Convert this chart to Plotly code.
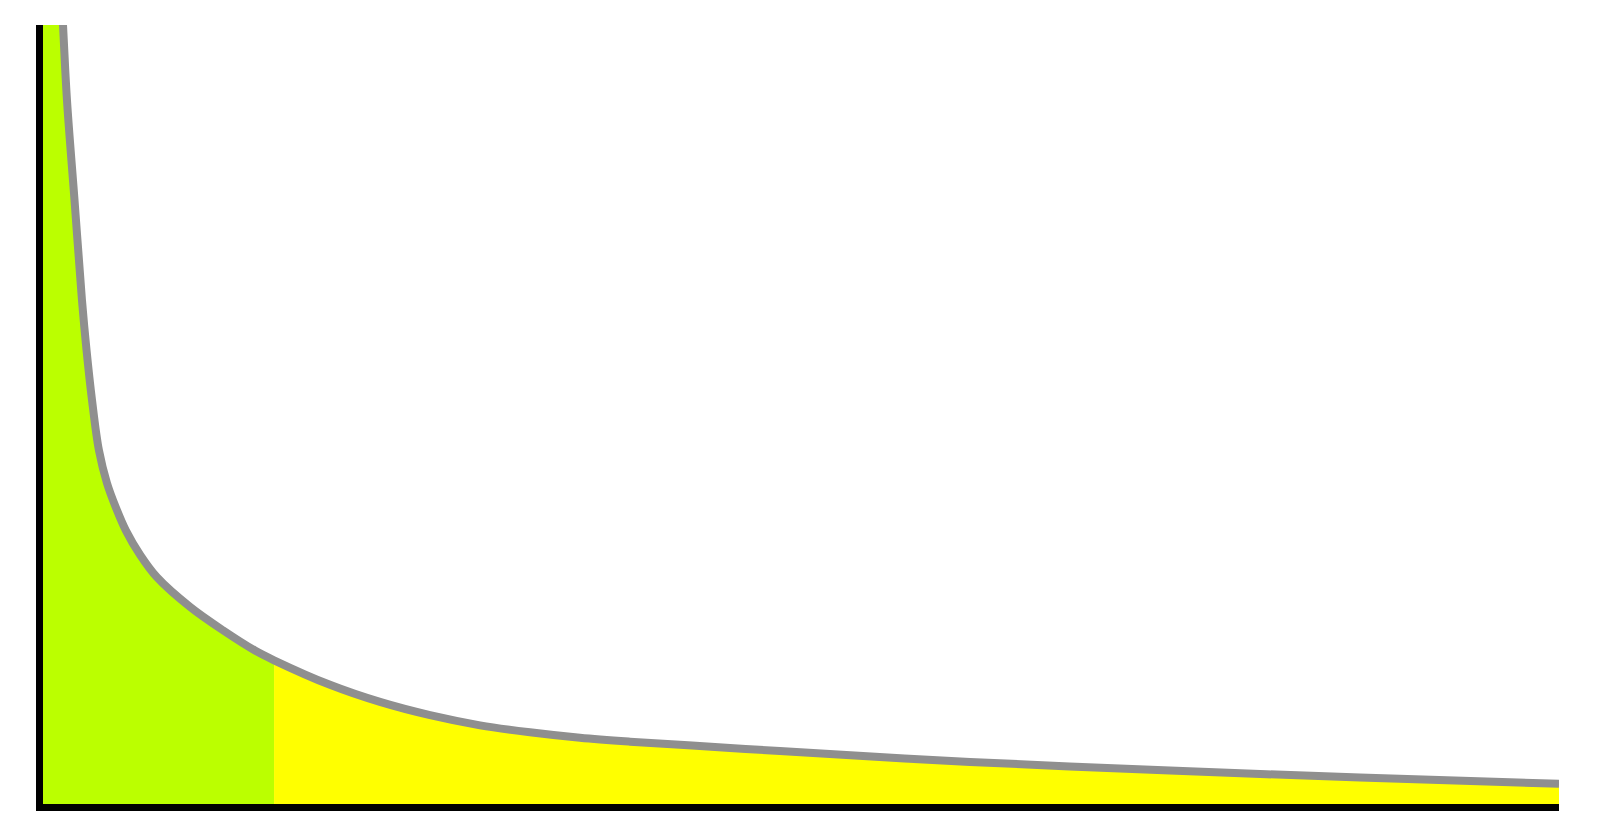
# ──────────────────────────────────────────────
#  Long-tail curve • head (green) vs tail (yellow)
# ──────────────────────────────────────────────

import plotly.graph_objs as go

# Curve (x: 0–100, y: 0–100, head runs off the top)
x_vals = [0.0, 1.32, 1.58, 2.08, 2.57, 2.87, 3.23, 3.69, 4.22, 4.82, 5.47,
          6.40, 7.52, 9.70, 11.87, 13.98, 15.24, 18.93, 22.23, 25.53,
          28.83, 32.12, 35.42, 38.72, 42.02, 45.32, 48.61, 61.15, 74.34,
          86.87, 100.0]
y_vals = [150.0, 100.0, 90.4, 77.5, 64.7, 58.3, 51.9, 45.4, 41.2, 38.0, 35.1,
          32.0, 29.1, 25.3, 22.3, 19.7, 18.45, 15.3, 13.1, 11.4,
          10.1, 9.2, 8.5, 8.0, 7.6, 7.2, 6.8, 5.4, 4.3,
          3.4, 2.6]

# Index where the head ends and the tail begins
split_idx = 16

HEAD_COLOR = "#bbff00"
TAIL_COLOR = "#ffff00"
CURVE_COLOR = "#8f8f8f"
SMOOTH = 1.0

fig = go.Figure()

# ──────────────────────────────────────────────
#  Fills
# ──────────────────────────────────────────────
fig.add_trace(go.Scatter(
    x=x_vals[:split_idx + 1], y=y_vals[:split_idx + 1],
    mode="lines", line=dict(width=0, shape="spline", smoothing=SMOOTH),
    fill="tozeroy", fillcolor=HEAD_COLOR, hoverinfo="skip", showlegend=False,
))
fig.add_trace(go.Scatter(
    x=x_vals[split_idx:], y=y_vals[split_idx:],
    mode="lines", line=dict(width=0, shape="spline", smoothing=SMOOTH),
    fill="tozeroy", fillcolor=TAIL_COLOR, hoverinfo="skip", showlegend=False,
))

# ──────────────────────────────────────────────
#  Curve
# ──────────────────────────────────────────────
fig.add_trace(go.Scatter(
    x=x_vals, y=y_vals, mode="lines",
    line=dict(color=CURVE_COLOR, width=8, shape="spline", smoothing=SMOOTH),
    showlegend=False,
))

fig.update_layout(
    width=1600, height=832,
    margin=dict(l=35, r=49, t=17, b=36),
    paper_bgcolor="white", plot_bgcolor="white",
    xaxis=dict(range=[0, 100], showgrid=False, zeroline=False, showticklabels=False,
               ticks="", showline=True, linecolor="black", linewidth=7),
    yaxis=dict(range=[0, 100], showgrid=False, zeroline=False, showticklabels=False,
               ticks="", showline=True, linecolor="black", linewidth=7),
)

fig.write_html("out.html")
